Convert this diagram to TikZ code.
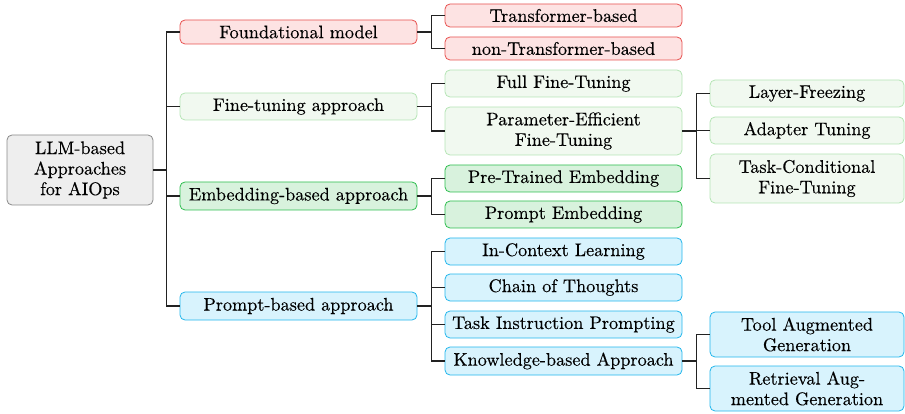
\documentclass[tikz,border=0pt]{standalone}
\usepackage{fontspec}
\setmainfont{lmroman10-regular.otf}[FakeBold=0.3]
\definecolor{rootfill}{HTML}{EEEEEE}
\definecolor{rootdraw}{HTML}{8A8A8A}
\definecolor{redfill}{HTML}{FDE3E3}
\definecolor{reddraw}{HTML}{E8514F}
\definecolor{ftfill}{HTML}{F1F9F0}
\definecolor{ftdraw}{HTML}{B5E5B5}
\definecolor{emfill}{HTML}{D8F2DD}
\definecolor{emdraw}{HTML}{2DBE4F}
\definecolor{prfill}{HTML}{D8F3FD}
\definecolor{prdraw}{HTML}{22B6EC}
\definecolor{linec}{HTML}{222222}
\tikzset{
  box/.style={rounded corners=5pt, line width=0.8pt, align=center, inner sep=0pt,
    font=\fontsize{18.2}{20.5}\selectfont},
  rootbox/.style={box, fill=rootfill, draw=rootdraw, minimum width=146pt, minimum height=70pt},
  redbox/.style={box, fill=redfill, draw=reddraw},
  ftbox/.style={box, fill=ftfill, draw=ftdraw},
  embox/.style={box, fill=emfill, draw=emdraw},
  prbox/.style={box, fill=prfill, draw=prdraw},
  lone/.style={minimum width=237pt},
  ltwo/.style={minimum width=237pt},
  lthree/.style={minimum width=194pt},
  conn/.style={draw=linec, line width=1.2pt},
}
\begin{document}
\begin{tikzpicture}[x=1pt,y=-1pt]
\useasboundingbox (0,0) rectangle (905,414);
% root
\node[rootbox] (root) at (80,170) {LLM-based\\Approaches\\for AIOps};
% level 1
\node[redbox, lone, minimum height=24pt] (fm) at (298.5,32) {Foundational model};
\node[ftbox, lone, minimum height=27pt] (ft) at (298.5,106.5) {Fine-tuning approach};
\node[embox, lone, minimum height=28pt] (em) at (298.5,196) {Embedding-based approach};
\node[prbox, lone, minimum height=28pt] (pr) at (298.5,306) {Prompt-based approach};
% level 2
\node[redbox, ltwo, minimum height=23pt] (tb) at (563.5,15.5) {Transformer-based};
\node[redbox, ltwo, minimum height=23pt] (ntb) at (563.5,48.5) {non-Transformer-based};
\node[ftbox, ltwo, minimum height=27pt] (fft) at (563.5,83.5) {Full Fine-Tuning};
\node[ftbox, ltwo, minimum height=48pt] (peft) at (563.5,131) {Parameter-Efficient\\Fine-Tuning};
\node[embox, ltwo, minimum height=27pt] (pte) at (563.5,178.5) {Pre-Trained Embedding};
\node[embox, ltwo, minimum height=27pt] (pe) at (563.5,214.5) {Prompt Embedding};
\node[prbox, ltwo, minimum height=27pt] (icl) at (563.5,251.5) {In-Context Learning};
\node[prbox, ltwo, minimum height=27pt] (cot) at (563.5,287.5) {Chain of Thoughts};
\node[prbox, ltwo, minimum height=27pt] (tip) at (563.5,324.5) {Task Instruction Prompting};
\node[prbox, ltwo, minimum height=28pt] (kba) at (563.5,361) {Knowledge-based Approach};
% level 3
\node[ftbox, lthree, minimum height=27pt] (lf) at (807,93.5) {Layer-Freezing};
\node[ftbox, lthree, minimum height=27pt] (at) at (807,130.5) {Adapter Tuning};
\node[ftbox, lthree, minimum height=49pt] (tcft) at (807,178.5) {Task-Conditional\\Fine-Tuning};
\node[prbox, lthree, minimum height=45pt] (tag) at (807,334.5) {Tool Augmented\\Generation};
\node[prbox, lthree, minimum height=45pt] (rag) at (807,388.5) {Retrieval Aug-\\mented Generation};
% connectors
\foreach \c in {fm,ft,em,pr} \draw[conn] (root.east) -- ++(13,0) |- (\c.west);
\foreach \c in {tb,ntb} \draw[conn] (fm.east) -- ++(14,0) |- (\c.west);
\foreach \c in {fft,peft} \draw[conn] (ft.east) -- ++(14,0) |- (\c.west);
\foreach \c in {pte,pe} \draw[conn] (em.east) -- ++(14,0) |- (\c.west);
\foreach \c in {icl,cot,tip,kba} \draw[conn] (pr.east) -- ++(14,0) |- (\c.west);
\foreach \c in {lf,at,tcft} \draw[conn] (peft.east) -- ++(14,0) |- (\c.west);
\foreach \c in {tag,rag} \draw[conn] (kba.east) -- ++(14,0) |- (\c.west);
\end{tikzpicture}
\end{document}
